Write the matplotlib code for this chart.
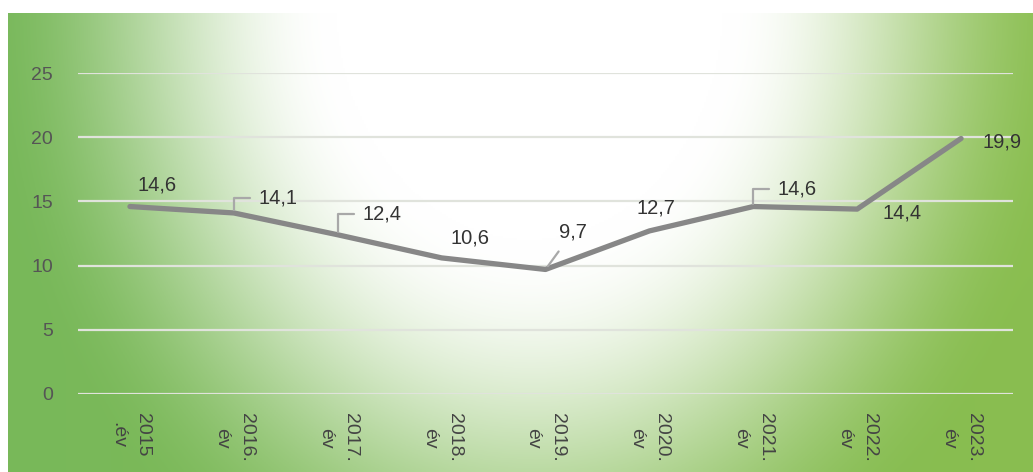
import numpy as np
import matplotlib
matplotlib.use("Agg")
import matplotlib.pyplot as plt

# data
years = ["2015", "2016.", "2017.", "2018.", "2019.", "2020.", "2021.", "2022.", "2023."]
suffixes = [".év", "év", "év", "év", "év", "év", "év", "év", "év"]
values = [14.6, 14.1, 12.4, 10.6, 9.7, 12.7, 14.6, 14.4, 19.9]
value_labels = ["14,6", "14,1", "12,4", "10,6", "9,7", "12,7", "14,6", "14,4", "19,9"]

# label offsets in pixels, and leader style per point
label_offsets = [(27, 22), (25, 15), (25, 21), (28, 20), (27, 37), (7, 23), (24, 18), (45, -4), (41, -4)]
leader = [None, "angle", "angle", None, "line", None, "angle", None, None]

plt.rcParams['font.family'] = ['Liberation Sans', 'DejaVu Sans']

W, H = 1033, 472
fig = plt.figure(figsize=(W / 100, H / 100), dpi=100)
fig.patch.set_facecolor("white")

# green background with a broad white glow at the top centre
bg = fig.add_axes([8 / W, 0, 1 - 8 / W, (H - 13) / H])
bg.set_axis_off()
nx_, ny_ = 500, 230
xx, yy = np.meshgrid(np.linspace(8, W, nx_), np.linspace(13, H, ny_))
r = np.sqrt(((xx - 530) / 650) ** 2 + ((yy - 0) / 800) ** 2)
t = np.clip((r - 0.3) / 0.55, 0, 1)
t = t * t * (3 - 2 * t)
left_green = np.array([120, 184, 90]) / 255
right_green = np.array([138, 190, 80]) / 255
mix = ((xx - 8) / (W - 8))[..., None]
green = left_green * (1 - mix) + right_green * mix
img = np.ones((ny_, nx_, 3)) * (1 - t[..., None]) + green * t[..., None]
bg.imshow(img, aspect="auto", extent=[0, 1, 0, 1], origin="upper")
bg.set_xlim(0, 1)
bg.set_ylim(0, 1)

# main chart
ax = fig.add_axes([78 / W, (H - 394) / H, (1013 - 78) / W, (394 - 73) / H])
ax.patch.set_alpha(0)
x = np.arange(len(values))
ax.plot(x, values, color="#878787", lw=3.8, solid_capstyle="round", solid_joinstyle="round", zorder=3)

ax.set_xlim(-0.5, len(values) - 0.5)
ax.set_ylim(0, 25)
ax.set_yticks([0, 5, 10, 15, 20, 25])
ax.yaxis.grid(True, color="#e0e3dc", lw=1.6)
ax.set_axisbelow(True)
for s in ax.spines.values():
    s.set_visible(False)
ax.tick_params(axis="y", length=0, pad=18, labelsize=14, labelcolor="#555555")
ax.tick_params(axis="x", length=0, pad=14)
ax.set_xticks(x)
ax.set_xticklabels([f"{y}\n{s}" for y, s in zip(years, suffixes)],
                   rotation=-90, fontsize=14, color="#444444",
                   ha="center", va="top", ma="center", linespacing=1.6)

for i, (v, lab) in enumerate(zip(values, value_labels)):
    dx, dy = label_offsets[i]
    if leader[i] == "angle":
        ax.annotate(lab, (i, v), xytext=(dx, dy), textcoords="offset pixels",
                    ha="left", va="center", fontsize=14.5, color="#333333",
                    arrowprops=dict(arrowstyle="-", color="#a8a8a8", lw=1.6,
                                    connectionstyle="angle,angleA=0,angleB=90,rad=0",
                                    shrinkA=4, shrinkB=2))
    elif leader[i] == "line":
        ax.annotate(lab, (i, v), xytext=(dx, dy), textcoords="offset pixels",
                    ha="center", va="center", fontsize=14.5, color="#333333",
                    arrowprops=dict(arrowstyle="-", color="#a8a8a8", lw=1.6,
                                    shrinkA=6, shrinkB=3))
    else:
        ax.annotate(lab, (i, v), xytext=(dx, dy), textcoords="offset pixels",
                    ha="center", va="center", fontsize=14.5, color="#333333")

fig.savefig("out.png", dpi=100, facecolor=fig.get_facecolor())
